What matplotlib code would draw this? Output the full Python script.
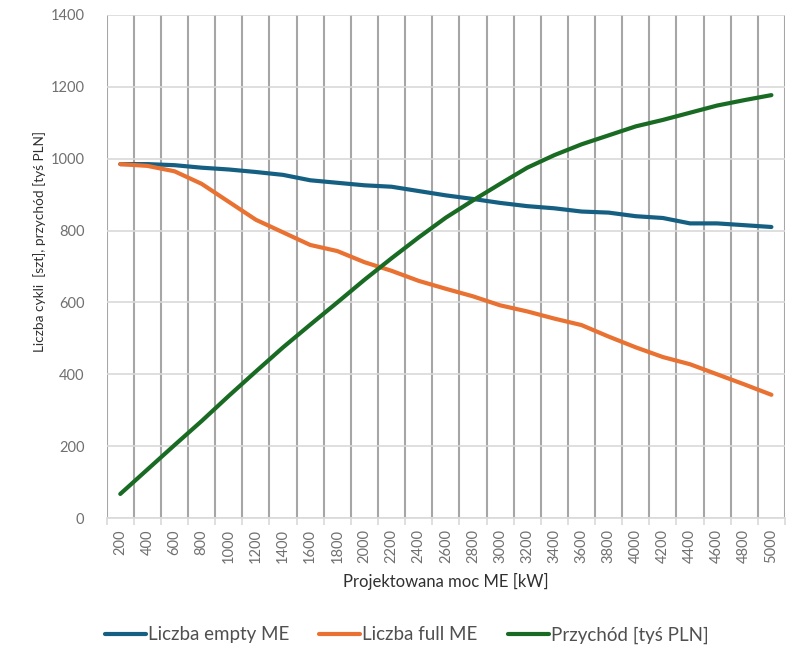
import matplotlib.pyplot as plt
import numpy as np

plt.rcParams['font.family'] = ['Lato', 'DejaVu Sans']

moc = [200, 400, 600, 800, 1000, 1200, 1400, 1600, 1800, 2000, 2200, 2400, 2600,
       2800, 3000, 3200, 3400, 3600, 3800, 4000, 4200, 4400, 4600, 4800, 5000]
liczba_empty = [985, 985, 982, 975, 970, 963, 955, 940, 933, 926, 922, 910, 898,
                888, 877, 868, 862, 853, 850, 840, 835, 820, 820, 815, 810]
liczba_full = [985, 980, 965, 930, 880, 830, 795, 760, 743, 712, 688, 660, 638,
               617, 592, 575, 555, 537, 505, 475, 448, 428, 400, 372, 343]
przychod = [67, 135, 203, 270, 340, 408, 475, 538, 600, 663, 723, 781, 836,
            884, 930, 975, 1010, 1040, 1065, 1090, 1108, 1128, 1148, 1163, 1177]

fig = plt.figure(figsize=(7.97, 6.46), dpi=100)
ax = fig.add_axes([0.1339, 0.1981, 0.851, 0.7787])

x = np.arange(len(moc))
ax.plot(x, liczba_empty, color='#156082', lw=3, label='Liczba empty ME',
        solid_capstyle='round', solid_joinstyle='round')
ax.plot(x, liczba_full, color='#E97132', lw=3, label='Liczba full ME',
        solid_capstyle='round', solid_joinstyle='round')
ax.plot(x, przychod, color='#196B24', lw=3, label='Przychód [tyś PLN]',
        solid_capstyle='round', solid_joinstyle='round')

ax.set_xlim(-0.5, len(moc) - 0.5)
ax.set_ylim(0, 1400)
ax.set_yticks(range(0, 1401, 200))
ax.set_xticks(x)
ax.set_xticklabels([str(m) for m in moc], rotation=90)
ax.set_xticks(np.arange(-0.5, len(moc), 1), minor=True)

ax.grid(axis='y', color='#d9d9d9', lw=1.2)
ax.grid(axis='x', which='minor', color='#a6a6a6', lw=1.5)
ax.set_axisbelow(True)
for s in ['top', 'right', 'left']:
    ax.spines[s].set_visible(False)
ax.spines['bottom'].set_color('#d9d9d9')
ax.spines['bottom'].set_linewidth(1.2)

ax.tick_params(axis='x', which='major', length=0, pad=8, labelsize=10.5, labelcolor='#707070')
ax.tick_params(axis='x', which='minor', length=5, color='#d9d9d9', width=1.2)
ax.tick_params(axis='y', length=0, pad=16, labelsize=10.5, labelcolor='#707070')

ax.set_xlabel('Projektowana moc ME [kW]', fontsize=12, color='#303030', labelpad=7)
fig.text(40 / 797, 1 - 241 / 646, 'Liczba cykli  [szt], przychód [tyś PLN]',
         rotation=90, ha='center', va='center', fontsize=9.8, color='#303030')

fig.legend(loc='center', bbox_to_anchor=(0.51, 0.017), ncol=3, frameon=False,
           fontsize=13.5, handlelength=2.2, handletextpad=0.1, columnspacing=1.6,
           labelcolor='#505050')

fig.savefig('out.png', dpi=100)
